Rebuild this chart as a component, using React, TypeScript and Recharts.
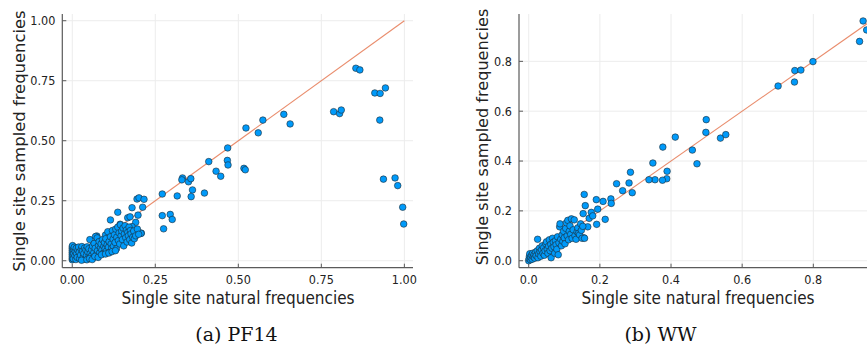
import React from 'react';
import { ScatterChart, Scatter, XAxis, YAxis, CartesianGrid, ReferenceLine } from 'recharts';

// PF14: single site natural vs sampled frequencies
const pf14Natural = [
  0.854, 0.866, 0.787, 0.805, 0.81, 0.911, 0.927, 0.943, 0.926, 0.937, 0.972, 0.98, 0.995, 0.998,
  0.637, 0.656, 0.574, 0.56, 0.523, 0.517, 0.521, 0.468, 0.467, 0.469, 0.411, 0.433, 0.447, 0.398,
  0.332, 0.33, 0.35, 0.357, 0.362, 0.358, 0.316, 0.271, 0.271, 0.275, 0.295, 0.301,
  0.195, 0.201, 0.216, 0.212, 0.18, 0.198, 0.191, 0.208, 0.137, 0.115, 0.167, 0.174, 0.207, 0.18, 0.144, 0.1, 0.074, 0.069,
  0, 0, 0, 0, 0, 0, 0, 0, 0.001, 0.003, 0.004, 0.005, 0.006, 0.008, 0.009, 0.011, 0.012, 0.013, 0.015, 0.017,
  0.019, 0.021, 0.022, 0.025, 0.027, 0.029, 0.031, 0.033, 0.035, 0.037, 0.039, 0.041, 0.043, 0.045, 0.047, 0.049, 0.05, 0.053, 0.054, 0.057,
  0.058, 0.061, 0.062, 0.065, 0.066, 0.069, 0.07, 0.072, 0.075, 0.076, 0.079, 0.081, 0.082, 0.085, 0.087, 0.089, 0.091, 0.093, 0.095, 0.097,
  0.099, 0.101, 0.103, 0.105, 0.107, 0.109, 0.111, 0.113, 0.115, 0.117, 0.119, 0.121, 0.123, 0.124, 0.127, 0.129, 0.131, 0.133, 0.134, 0.137,
  0.139, 0.141, 0.143, 0.145, 0.147, 0.149, 0.151, 0.153, 0.155, 0.157, 0.159, 0.161, 0.163, 0.165, 0.167, 0.169, 0.171, 0.173, 0.175, 0.177,
  0.179, 0.182, 0.185, 0.187, 0.191, 0.196, 0.2,
  0.028, 0.044, 0.052, 0.06, 0.068, 0.078, 0.088, 0.1, 0.11, 0.12, 0.13,
];
const pf14Sampled = [
  0.802, 0.795, 0.621, 0.613, 0.628, 0.699, 0.697, 0.72, 0.586, 0.34, 0.345, 0.313, 0.223, 0.153,
  0.61, 0.57, 0.586, 0.533, 0.553, 0.385, 0.379, 0.47, 0.418, 0.399, 0.413, 0.373, 0.352, 0.282,
  0.345, 0.337, 0.329, 0.342, 0.295, 0.267, 0.27, 0.278, 0.188, 0.133, 0.193, 0.172,
  0.257, 0.262, 0.256, 0.223, 0.221, 0.19, 0.16, 0.115, 0.202, 0.17, 0.179, 0.183, 0.114, 0.142, 0.152, 0.107, 0.103, 0.072,
  0.004, 0.011, 0.019, 0.027, 0.035, 0.043, 0.051, 0.058, 0.063, 0.008, 0.031, 0.047, 0.056, 0.021, 0.039, 0.005, 0.052, 0.029, 0.014, 0.044,
  0.057, 0.035, 0.009, 0.023, 0.048, 0.059, 0.04, 0.015, 0.03, 0.053, 0.006, 0.045, 0.022, 0.058, 0.036, 0.013, 0.05, 0.088, 0.03, 0.019,
  0.046, 0.061, 0.011, 0.034, 0.072, 0.052, 0.101, 0.024, 0.095, 0.042, 0.064, 0.08, 0.032, 0.054, 0.07, 0.044, 0.088, 0.031, 0.06, 0.076,
  0.05, 0.092, 0.04, 0.066, 0.121, 0.056, 0.08, 0.036, 0.1, 0.07, 0.052, 0.126, 0.09, 0.06, 0.108, 0.076, 0.132, 0.05, 0.098, 0.14,
  0.084, 0.116, 0.07, 0.15, 0.104, 0.124, 0.088, 0.136, 0.062, 0.112, 0.146, 0.096, 0.128, 0.078, 0.118, 0.104, 0.14, 0.088, 0.126, 0.112,
  0.074, 0.098, 0.124, 0.092, 0.104, 0.132, 0.11,
  0.002, 0.004, 0.009, 0.005, 0.018, 0.014, 0.025, 0.028, 0.032, 0.038, 0.042,
];

// WW
const wwNatural = [
  0.94, 0.95, 0.93, 0.799, 0.748, 0.765, 0.747, 0.701, 0.499, 0.498, 0.539, 0.554, 0.412, 0.377, 0.46, 0.473,
  0.349, 0.389, 0.388, 0.376, 0.355, 0.338, 0.286, 0.282, 0.291, 0.264, 0.247, 0.231, 0.232, 0.209, 0.215,
  0.19, 0.191, 0.156, 0.159, 0.194, 0.176, 0.153, 0.155, 0.166,
  0, 0.001, 0.002, 0.003, 0.005, 0.006, 0.008, 0.01, 0.011, 0.013, 0.015, 0.017, 0.019, 0.021, 0.024, 0.025, 0.026, 0.028, 0.03, 0.032,
  0.034, 0.036, 0.038, 0.04, 0.042, 0.044, 0.046, 0.048, 0.05, 0.052, 0.054, 0.056, 0.058, 0.06, 0.062, 0.063, 0.065, 0.067, 0.069, 0.071,
  0.073, 0.075, 0.077, 0.079, 0.081, 0.083, 0.085, 0.087, 0.088, 0.09, 0.092, 0.094, 0.096, 0.098, 0.1, 0.102, 0.104, 0.106, 0.108, 0.11,
  0.112, 0.114, 0.116, 0.118, 0.12, 0.122, 0.125, 0.128, 0.13, 0.133, 0.136, 0.138, 0.14, 0.143, 0.146, 0.148, 0.15, 0.152, 0.157, 0.17, 0.18,
];
const wwSampled = [
  0.962, 0.926, 0.88, 0.799, 0.763, 0.765, 0.717, 0.701, 0.566, 0.515, 0.492, 0.506, 0.496, 0.456, 0.444, 0.389,
  0.392, 0.359, 0.329, 0.323, 0.325, 0.325, 0.355, 0.312, 0.273, 0.281, 0.309, 0.248, 0.23, 0.238, 0.166,
  0.245, 0.146, 0.266, 0.221, 0.207, 0.194, 0.189, 0.092, 0.136,
  0, 0.008, 0.018, 0.028, 0.004, 0.014, 0.022, 0.006, 0.03, 0.016, 0.024, 0.01, 0.034, 0.02, 0.04, 0.086, 0.012, 0.028, 0.05, 0.036,
  0.018, 0.044, 0.06, 0.03, 0.052, 0.022, 0.04, 0.068, 0.076, 0.046, 0.03, 0.058, 0.084, 0.04, 0.066, 0.012, 0.05, 0.09, 0.074, 0.056,
  0.03, 0.08, 0.064, 0.046, 0.096, 0.024, 0.072, 0.136, 0.148, 0.086, 0.06, 0.104, 0.078, 0.118, 0.092, 0.068, 0.13, 0.152, 0.1, 0.162,
  0.084, 0.118, 0.14, 0.106, 0.168, 0.09, 0.124, 0.164, 0.1, 0.086, 0.116, 0.132, 0.11, 0.104, 0.148, 0.122, 0.09, 0.138, 0.09, 0.17, 0.18,
];

const pf14Ticks = [0, 0.25, 0.5, 0.75, 1];
const wwTicks = [0, 0.2, 0.4, 0.6, 0.8];

const pf14Data = pf14Natural.map((x, i) => ({ x, y: pf14Sampled[i] }));
const wwData = wwNatural.map((x, i) => ({ x, y: wwSampled[i] }));

const tickFont = "'DejaVu Sans Condensed', 'DejaVu Sans', sans-serif";
const tickStyle = { fontSize: 12.5, fill: '#222', fontFamily: tickFont };
const gridColor = '#ececec';
const axisColor = '#5a5a5a';

const Dot = (props: any) => (
  <circle cx={props.cx} cy={props.cy} r={3.3} fill="#009AFA" stroke="#1d2a33" strokeWidth={0.6} />
);

interface PanelProps {
  data: { x: number; y: number }[];
  ticks: number[];
  digits: number;
  xDomain: [number, number];
  yDomain: [number, number];
  diagEnd: number;
  width: number;
  yAxisWidth: number;
}

function Panel({ data, ticks, digits, xDomain, yDomain, diagEnd, width, yAxisWidth }: PanelProps) {
  return (
    <ScatterChart width={width} height={310} margin={{ top: 14, right: 7, bottom: 0, left: 0 }}>
      <CartesianGrid stroke={gridColor} strokeWidth={1} horizontalValues={ticks} verticalValues={ticks} />
      <XAxis
        type="number"
        dataKey="x"
        domain={xDomain}
        ticks={ticks}
        allowDataOverflow
        height={42.3}
        tick={tickStyle}
        tickFormatter={(v: number) => v.toFixed(digits)}
        tickSize={-4}
        tickMargin={11.5}
        tickLine={{ stroke: axisColor }}
        axisLine={{ stroke: axisColor, strokeWidth: 1.2 }}
      />
      <YAxis
        type="number"
        dataKey="y"
        domain={yDomain}
        ticks={ticks}
        allowDataOverflow
        width={yAxisWidth}
        tick={tickStyle}
        tickFormatter={(v: number) => v.toFixed(digits)}
        tickSize={-4}
        tickMargin={11}
        tickLine={{ stroke: axisColor }}
        axisLine={{ stroke: axisColor, strokeWidth: 1.2 }}
      />
      <Scatter data={data} shape={Dot} isAnimationActive={false} />
      <ReferenceLine
        segment={[{ x: 0, y: 0 }, { x: diagEnd, y: diagEnd }]}
        stroke="#E36F47"
        strokeOpacity={0.8}
        strokeWidth={1.1}
      />
    </ScatterChart>
  );
}

const labelFont = "'DejaVu Sans', sans-serif";

export default function App() {
  return (
    <div style={{ position: 'absolute', left: 0, top: 0, width: 867, height: 350, overflow: 'hidden', background: '#fff' }}>
      <div style={{ position: 'absolute', left: 0, top: 0 }}>
        <Panel
          data={pf14Data}
          ticks={pf14Ticks}
          digits={2}
          xDomain={[-0.03, 1.026]}
          yDomain={[-0.029, 1.028]}
          diagEnd={1}
          width={420}
          yAxisWidth={62.3}
        />
      </div>
      <div style={{ position: 'absolute', left: 430, top: 0 }}>
        <Panel
          data={wwData}
          ticks={wwTicks}
          digits={1}
          xDomain={[-0.0273, 0.979]}
          yDomain={[-0.028, 0.99]}
          diagEnd={0.96}
          width={454}
          yAxisWidth={89}
        />
      </div>
      <svg width={867} height={350} style={{ position: 'absolute', left: 0, top: 0, pointerEvents: 'none' }}>
        <g fill="#222" fontFamily={labelFont}>
          <text x={238} y={303.5} fontSize={17.5} textAnchor="middle" textLength={233} lengthAdjust="spacingAndGlyphs">
            Single site natural frequencies
          </text>
          <text x={698} y={303.5} fontSize={17.5} textAnchor="middle" textLength={233} lengthAdjust="spacingAndGlyphs">
            Single site natural frequencies
          </text>
          <text transform="translate(24.5,141) rotate(-90)" fontSize={16.4} textAnchor="middle">
            Single site sampled frequencies
          </text>
          <text transform="translate(487.5,137) rotate(-90)" fontSize={16.1} textAnchor="middle">
            Single site sampled frequencies
          </text>
        </g>
        <g fill="#111" fontFamily="'DejaVu Serif', serif" fontSize={19}>
          <text x={236.5} y={341} textAnchor="middle">
            (a) PF14
          </text>
          <text x={660.5} y={341} textAnchor="middle">
            (b) WW
          </text>
        </g>
      </svg>
    </div>
  );
}
